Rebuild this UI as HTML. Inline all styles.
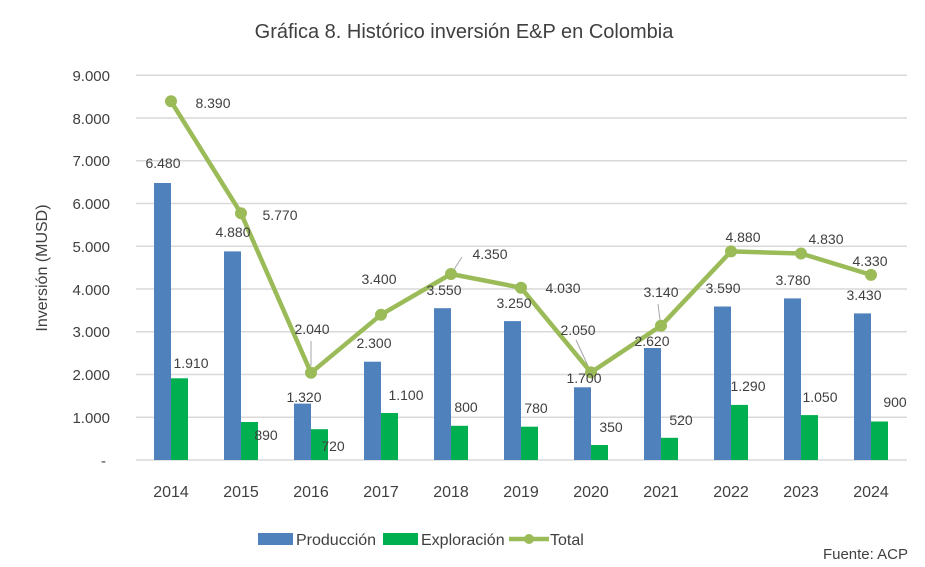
<!DOCTYPE html>
<html><head><meta charset="utf-8"><style>
html,body{margin:0;padding:0;background:#fff;}
svg{display:block;font-family:"Liberation Sans",sans-serif;}
</style></head><body>
<svg width="925" height="567" viewBox="0 0 925 567">
<text x="464" y="38" text-anchor="middle" font-size="20" fill="#404040">Gráfica 8. Histórico inversión E&amp;P en Colombia</text>
<g stroke="#d9d9d9" stroke-width="1.5">
<line x1="136" x2="907" y1="75.3" y2="75.3"/><line x1="136" x2="907" y1="118" y2="118"/>
<line x1="136" x2="907" y1="160.8" y2="160.8"/><line x1="136" x2="907" y1="203.5" y2="203.5"/>
<line x1="136" x2="907" y1="246.3" y2="246.3"/><line x1="136" x2="907" y1="289" y2="289"/>
<line x1="136" x2="907" y1="331.8" y2="331.8"/><line x1="136" x2="907" y1="374.5" y2="374.5"/>
<line x1="136" x2="907" y1="417.3" y2="417.3"/><line x1="136" x2="907" y1="460" y2="460"/>
</g>
<g font-size="15" fill="#404040" text-anchor="end">
<text x="110" y="81">9.000</text><text x="110" y="124">8.000</text><text x="110" y="166">7.000</text>
<text x="110" y="209">6.000</text><text x="110" y="252">5.000</text><text x="110" y="295">4.000</text>
<text x="110" y="337">3.000</text><text x="110" y="380">2.000</text><text x="110" y="423">1.000</text>
<text x="106" y="466">-</text>
</g>
<text transform="translate(47,268) rotate(-90)" text-anchor="middle" font-size="16" fill="#404040">Inversión (MUSD)</text>
<g fill="#4f81bd">
<rect x="154" y="183" width="17" height="277"/><rect x="224" y="251.4" width="17" height="208.6"/>
<rect x="294" y="403.6" width="17" height="56.4"/><rect x="364" y="361.7" width="17" height="98.3"/>
<rect x="434" y="308.2" width="17" height="151.8"/><rect x="504" y="321.1" width="17" height="138.9"/>
<rect x="574" y="387.3" width="17" height="72.7"/><rect x="644" y="348" width="17" height="112"/>
<rect x="714" y="306.5" width="17" height="153.5"/><rect x="784" y="298.4" width="17" height="161.6"/>
<rect x="854" y="313.4" width="17" height="146.6"/>
</g>
<g fill="#00b050">
<rect x="171" y="378.3" width="17" height="81.7"/><rect x="241" y="422" width="17" height="38"/>
<rect x="311" y="429.2" width="17" height="30.8"/><rect x="381" y="413" width="17" height="47"/>
<rect x="451" y="425.8" width="17" height="34.2"/><rect x="521" y="426.7" width="17" height="33.3"/>
<rect x="591" y="445" width="17" height="15"/><rect x="661" y="437.8" width="17" height="22.2"/>
<rect x="731" y="404.9" width="17" height="55.1"/><rect x="801" y="415.1" width="17" height="44.9"/>
<rect x="871" y="421.5" width="17" height="38.5"/>
</g>
<g stroke="#a6a6a6" stroke-width="1">
<line x1="311" y1="341" x2="311" y2="366"/>
<line x1="453" y1="271" x2="462" y2="257"/>
<line x1="576" y1="340" x2="589" y2="368"/>
<line x1="658" y1="304" x2="660" y2="320"/>
</g>
<polyline fill="none" stroke="#9bbb59" stroke-width="4.5" stroke-linejoin="round" points="171,101.3 241,213.3 311,372.8 381,314.7 451,274 521,287.7 591,372.4 661,325.8 731,251.4 801,253.5 871,274.9"/>
<g fill="#9bbb59">
<circle cx="171" cy="101.3" r="6"/><circle cx="241" cy="213.3" r="6"/><circle cx="311" cy="372.8" r="6"/>
<circle cx="381" cy="314.7" r="6"/><circle cx="451" cy="274" r="6"/><circle cx="521" cy="287.7" r="6"/>
<circle cx="591" cy="372.4" r="6"/><circle cx="661" cy="325.8" r="6"/><circle cx="731" cy="251.4" r="6"/>
<circle cx="801" cy="253.5" r="6"/><circle cx="871" cy="274.9" r="6"/>
</g>
<g font-size="14" fill="#404040" text-anchor="middle">
<text x="163" y="168">6.480</text><text x="233" y="237">4.880</text><text x="304" y="402">1.320</text>
<text x="374" y="348">2.300</text><text x="444" y="295">3.550</text><text x="514" y="308">3.250</text>
<text x="584" y="383">1.700</text><text x="652" y="346">2.620</text><text x="723" y="293">3.590</text>
<text x="793" y="285">3.780</text><text x="864" y="300">3.430</text>
<text x="191" y="368">1.910</text><text x="266" y="440">890</text><text x="333" y="451">720</text>
<text x="406" y="400">1.100</text><text x="466" y="412">800</text><text x="536" y="413">780</text>
<text x="611" y="432">350</text><text x="681" y="425">520</text><text x="748" y="391">1.290</text>
<text x="820" y="402">1.050</text><text x="895" y="407">900</text>
<text x="213" y="108">8.390</text><text x="280" y="220">5.770</text><text x="312" y="334">2.040</text>
<text x="379" y="284">3.400</text><text x="490" y="259">4.350</text><text x="563" y="293">4.030</text>
<text x="578" y="335">2.050</text><text x="661" y="297">3.140</text><text x="743" y="242">4.880</text>
<text x="826" y="244">4.830</text><text x="870" y="266">4.330</text>
</g>
<g font-size="16" fill="#404040" text-anchor="middle">
<text x="171" y="497">2014</text><text x="241" y="497">2015</text><text x="311" y="497">2016</text>
<text x="381" y="497">2017</text><text x="451" y="497">2018</text><text x="521" y="497">2019</text>
<text x="591" y="497">2020</text><text x="661" y="497">2021</text><text x="731" y="497">2022</text>
<text x="801" y="497">2023</text><text x="871" y="497">2024</text>
</g>
<rect x="258" y="533" width="35" height="12" fill="#4f81bd"/>
<text x="296" y="545" font-size="16" fill="#404040">Producción</text>
<rect x="383" y="533" width="35" height="12" fill="#00b050"/>
<text x="421" y="545" font-size="16" fill="#404040">Exploración</text>
<line x1="509" y1="539" x2="549" y2="539" stroke="#9bbb59" stroke-width="4.5"/>
<circle cx="529" cy="539" r="5" fill="#9bbb59"/>
<text x="550" y="545" font-size="16" fill="#404040">Total</text>
<text x="908" y="559" font-size="15" fill="#404040" text-anchor="end">Fuente: ACP</text>
</svg>
</body></html>
